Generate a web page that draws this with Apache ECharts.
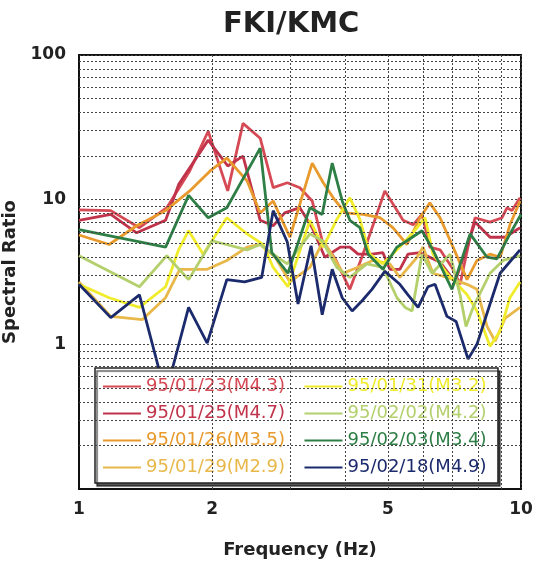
<!DOCTYPE html>
<html>
<head>
<meta charset="utf-8">
<script src="https://cdn.jsdelivr.net/npm/echarts@6/dist/echarts.min.js"></script>
<style>
  html, body { margin: 0; padding: 0; background: #fff; }
  #chart { width: 541px; height: 564px; }
</style>
</head>
<body>
<div id="chart"></div>
<script>
// 频率 (Hz) 与谱比，按事件分组
const fq0123 = [1.00,1.18,1.37,1.58,1.78,1.96,2.17,2.35,2.57,2.75,2.96,3.16,3.37,3.55,3.80,4.10,4.39,4.92,5.41,5.70,5.97,6.22,6.56,6.98,7.28,7.67,7.87,8.51,9.06,9.30,9.54,9.95]
const sr0123 = [8.5,8.4,6.4,8.8,15.8,29.7,11.5,33.7,26.6,12.1,13.1,12.1,9.8,5.2,3.9,2.4,4.2,11.5,7.2,6.7,7.9,4.7,4.5,3.4,2.6,5.5,7.5,7.0,7.5,8.8,8.4,10.3]

const fq0125 = [1.00,1.18,1.35,1.57,1.68,1.96,2.17,2.35,2.57,2.75,2.92,3.16,3.37,3.60,3.90,4.10,4.28,4.60,4.87,5.05,5.32,5.55,5.91,6.56,7.09,7.47,7.87,8.51,9.20,9.95]
const sr0125 = [7.2,7.9,5.9,7.2,12.7,25.8,17.1,20.0,7.2,6.6,8.1,8.8,6.4,4.0,4.7,4.7,4.2,4.2,4.3,3.3,3.3,4.2,4.3,3.7,2.7,4.3,7.0,5.5,5.5,6.4]

const fq0126 = [1.00,1.17,1.35,1.57,1.78,1.98,2.16,2.40,2.57,2.75,3.00,3.37,3.57,3.76,4.00,4.39,4.80,5.13,5.52,5.91,6.22,6.56,7.02,7.55,7.95,8.51,8.97,9.44,9.95]
const sr0126 = [5.7,4.9,6.6,8.4,11.5,15.8,19.4,13.5,8.1,9.8,5.5,17.9,13.1,10.3,8.1,7.9,7.5,6.4,4.9,7.5,9.5,7.5,4.7,2.8,3.8,4.2,4.0,6.7,9.8]

const fq0129 = [1.00,1.18,1.39,1.57,1.69,1.95,2.16,2.40,2.57,2.78,3.00,3.33,3.57,3.96,4.26,4.62,5.05,5.32,5.82,6.00,6.32,6.80,7.55,7.95,8.38,8.74,9.20,9.95]
const sr0129 = [2.7,1.56,1.48,2.1,3.3,3.3,3.8,4.7,4.9,4.0,2.7,3.4,5.2,3.1,3.4,3.8,3.6,2.9,4.0,4.7,3.1,2.9,2.6,2.4,1.33,1.05,1.51,1.8]

const fq0131 = [1.00,1.17,1.37,1.57,1.68,1.77,1.91,2.16,2.40,2.61,2.75,2.97,3.33,3.57,3.83,4.10,4.32,4.55,4.87,5.32,5.82,6.07,6.32,6.80,7.55,7.95,8.51,8.97,9.44,9.95]
const sr0131 = [2.6,2.1,1.8,2.5,4.5,6.1,4.2,7.5,5.8,4.9,3.4,2.5,7.2,4.7,7.3,10.3,7.3,4.2,3.6,4.7,6.4,7.5,4.2,3.1,2.2,1.7,0.97,1.23,2.1,2.7]

const fq0202 = [1.00,1.37,1.58,1.77,2.00,2.40,2.57,2.78,2.96,3.33,3.55,3.83,4.10,4.48,4.87,5.24,5.47,5.67,5.97,6.29,6.91,7.28,7.51,7.79,8.51,9.11,9.95]
const sr0202 = [4.1,2.5,4.1,2.8,5.2,4.5,4.9,4.1,3.6,5.8,5.2,3.4,2.9,3.6,3.4,2.1,1.8,1.7,4.2,3.1,4.2,2.2,1.33,1.8,3.1,3.8,4.1]

const fq0203 = [1.00,1.57,1.77,1.96,2.16,2.57,2.73,2.97,3.06,3.33,3.55,3.74,3.94,4.10,4.32,4.51,4.87,5.24,5.52,5.97,6.32,6.98,7.67,8.38,8.82,9.44,10.0]
const sr0203 = [6.2,4.7,10.7,7.5,8.8,22.7,4.3,3.1,4.1,8.8,7.9,17.9,9.8,7.2,6.4,4.2,3.3,4.7,5.2,6.1,4.5,2.4,5.8,4.0,3.9,5.8,7.9]

const fq0218 = [1.00,1.18,1.37,1.57,1.77,1.95,2.16,2.37,2.59,2.75,2.96,3.13,3.35,3.55,3.74,3.94,4.15,4.37,4.60,4.92,5.32,5.55,5.85,6.16,6.39,6.80,7.13,7.59,7.95,8.51,8.97,9.95]
const sr0218 = [2.6,1.53,2.2,0.45,1.8,1.02,2.8,2.7,2.9,8.4,5.1,1.9,4.8,1.6,3.3,2.1,1.7,2.0,2.4,3.2,2.6,2.2,1.8,2.5,2.6,1.56,1.44,0.79,1.0,1.9,3.1,4.5]

// 网格线刻度
const minorX = [2, 3, 4, 5, 6, 7, 8, 9]
const minorY = [0.2,0.3,0.4,0.5,0.6,0.7,0.8,0.9,2,3,4,5,6,7,8,9,20,30,40,50,60,70,80,90]
const xLabelsExtra = [2, 5]

const events = [
  {name: '95/01/23(M4.3)', color: '#d64a55', fq: fq0123, sr: sr0123},
  {name: '95/01/25(M4.7)', color: '#c0334a', fq: fq0125, sr: sr0125},
  {name: '95/01/26(M3.5)', color: '#e89a2c', fq: fq0126, sr: sr0126},
  {name: '95/01/29(M2.9)', color: '#e8b84a', fq: fq0129, sr: sr0129},
  {name: '95/01/31(M3.2)', color: '#f0ec2c', fq: fq0131, sr: sr0131},
  {name: '95/02/02(M4.2)', color: '#b4d06c', fq: fq0202, sr: sr0202},
  {name: '95/02/03(M3.4)', color: '#2e7f46', fq: fq0203, sr: sr0203},
  {name: '95/02/18(M4.9)', color: '#1b2a6c', fq: fq0218, sr: sr0218}
]
const legendOrder = [0, 4, 1, 5, 2, 6, 3, 7]

const font = 'DejaVu Sans, sans-serif'
const gridStyle = {color: '#444', width: 1, type: [2, 2]}

const chart = echarts.init(document.getElementById('chart'), null, {renderer: 'canvas'})

const dataSeries = events.map(e => ({
  name: e.name,
  type: 'line',
  data: e.fq.map((f, i) => [f, e.sr[i]]),
  showSymbol: false,
  silent: true,
  z: 3,
  itemStyle: {color: e.color},
  lineStyle: {color: e.color, width: 2.8}
}))

//次网格线（对数轴上的 2~9 倍）
const gridSeries = {
  type: 'line',
  data: [],
  silent: true,
  z: 1,
  markLine: {
    silent: true,
    symbol: 'none',
    animation: false,
    lineStyle: gridStyle,
    label: {show: false},
    emphasis: {disabled: true},
    data: [
      ...minorX.map(v => {
        const item = {xAxis: v}
        if (xLabelsExtra.includes(v)) {
          item.label = {
            show: true,
            position: 'start',
            distance: 12,
            formatter: String(v),
            color: '#222',
            fontFamily: font,
            fontWeight: 'bold',
            fontSize: 17
          }
        }
        return item
      }),
      ...minorY.map(v => ({yAxis: v}))
    ]
  }
}

const option = {
  animation: false,
  backgroundColor: '#fff',
  title: {
    text: 'FKI/KMC',
    left: 218,
    top: 5,
    textStyle: {fontFamily: font, fontWeight: 'bold', fontSize: 29, color: '#222'}
  },
  grid: {
    left: 79,
    right: 20,
    top: 55,
    bottom: 75,
    containLabel: false,
    outerBoundsMode: 'none',
    show: true,
    borderColor: '#111',
    borderWidth: 2,
    backgroundColor: '#fff'
  },
  legend: {
    left: 95,
    top: 368,
    orient: 'horizontal',
    width: 410,
    icon: 'rect',
    itemWidth: 38,
    itemHeight: 2,
    itemGap: 8,
    padding: [9, 0, 6, 8],
    backgroundColor: '#fff',
    borderColor: '#222',
    borderWidth: 1.5,
    shadowColor: 'rgba(0,0,0,0.65)',
    shadowOffsetX: 2,
    shadowOffsetY: 3,
    shadowBlur: 1,
    selectedMode: false,
    formatter: name => name + '  ',
    textStyle: {fontFamily: font, fontSize: 18, lineHeight: 19},
    data: legendOrder.map(i => ({name: events[i].name, textStyle: {color: events[i].color}}))
  },
  xAxis: {
    type: 'log',
    logBase: 10,
    min: 1,
    max: 10,
    name: 'Frequency (Hz)',
    nameLocation: 'middle',
    nameGap: 52,
    nameTextStyle: {fontFamily: font, fontWeight: 'bold', fontSize: 18, color: '#222'},
    axisLine: {show: true, lineStyle: {color: '#111', width: 2}},
    axisTick: {show: false},
    axisLabel: {margin: 12, fontFamily: font, fontWeight: 'bold', fontSize: 17, color: '#222'},
    splitLine: {show: true, lineStyle: gridStyle}
  },
  yAxis: {
    type: 'log',
    logBase: 10,
    min: 0.1,
    max: 100,
    name: 'Spectral Ratio',
    nameLocation: 'middle',
    nameGap: 35,
    nameTextStyle: {fontFamily: font, fontWeight: 'bold', fontSize: 18, color: '#222'},
    axisLine: {show: true, lineStyle: {color: '#111', width: 2}},
    axisTick: {show: false},
    axisLabel: {
      margin: 13,
      fontFamily: font,
      fontWeight: 'bold',
      fontSize: 17,
      color: '#222',
      formatter: v => (v < 0.5 ? '' : String(Math.round(v)))
    },
    splitLine: {show: true, lineStyle: gridStyle}
  },
  series: [gridSeries, ...dataSeries]
}

chart.setOption(option)
</script>
</body>
</html>
